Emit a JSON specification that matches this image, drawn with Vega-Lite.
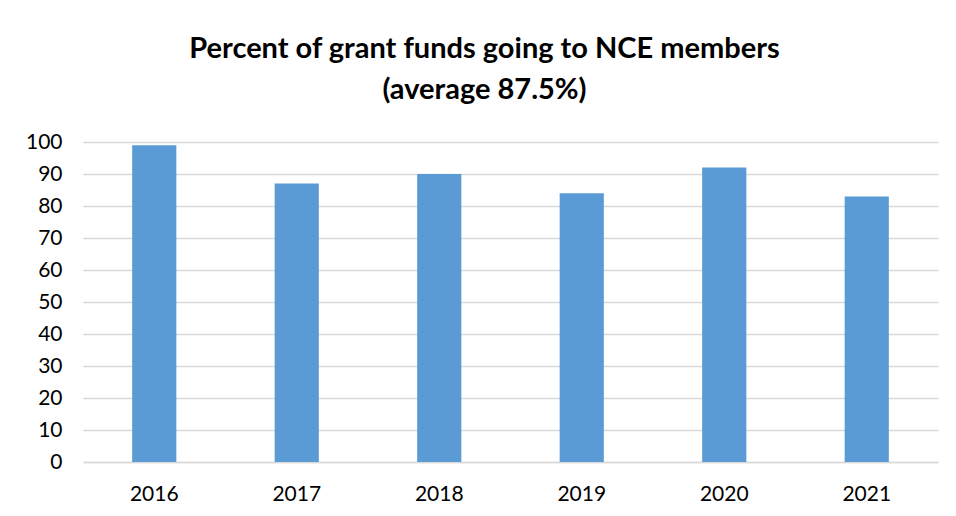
{
  "$schema": "https://vega.github.io/schema/vega-lite/v6.json",
  "autosize": {"type": "none"},
  "padding": {"left": 83, "top": 142, "right": 18, "bottom": 54},
  "width": 855,
  "height": 320,
  "background": "white",
  "title": {
    "text": ["Percent of grant funds going to NCE members", "(average 87.5%)"],
    "font": "Lato",
    "fontSize": 29,
    "fontWeight": "bold",
    "color": "#000000",
    "lineHeight": 41,
    "anchor": "middle",
    "dx": -26,
    "offset": 26
  },
  "data": {
    "values": [
      {"year": "2016", "percent": 99},
      {"year": "2017", "percent": 87},
      {"year": "2018", "percent": 90},
      {"year": "2019", "percent": 84},
      {"year": "2020", "percent": 92},
      {"year": "2021", "percent": 83}
    ]
  },
  "mark": {"type": "bar", "color": "#5b9bd5", "width": {"band": 0.31}},
  "encoding": {
    "x": {
      "field": "year",
      "type": "nominal",
      "scale": {"paddingInner": 0, "paddingOuter": 0},
      "axis": {
        "title": null,
        "labelAngle": 0,
        "ticks": false,
        "domainColor": "#d9d9d9",
        "domainWidth": 1.5,
        "labelFont": "Lato",
        "labelFontSize": 21,
        "labelColor": "#000000",
        "labelPadding": 21
      }
    },
    "y": {
      "field": "percent",
      "type": "quantitative",
      "scale": {"domain": [0, 100]},
      "axis": {
        "title": null,
        "values": [0, 10, 20, 30, 40, 50, 60, 70, 80, 90, 100],
        "ticks": false,
        "domain": false,
        "gridColor": "#d9d9d9",
        "gridWidth": 1.5,
        "labelFont": "Lato",
        "labelFontSize": 21,
        "labelColor": "#000000",
        "labelPadding": 21
      }
    }
  },
  "config": {"view": {"stroke": null}}
}
